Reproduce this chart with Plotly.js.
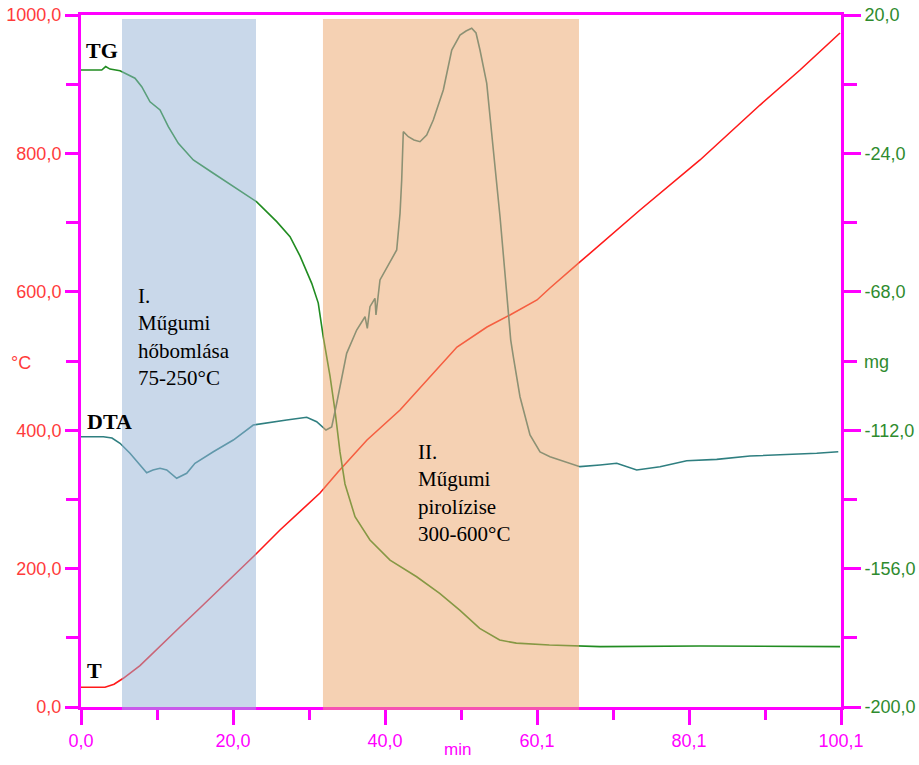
<!DOCTYPE html>
<html>
<head>
<meta charset="utf-8">
<script src="https://cdn.plot.ly/plotly-3.0.1.min.js"></script>
<style>
  html, body { margin: 0; padding: 0; background: #ffffff; }
  #chart { width: 919px; height: 765px; }
</style>
</head>
<body>
<div id="chart"></div>
<script>
// ---- Data ----
// Temperature curve T (°C, left axis)
const tTime = [0, 3.16, 4.35, 5.57, 7.77, 10.40, 13.04, 15.67, 19.23, 22.92, 26.21, 28.84, 31.48, 33.85, 37.67, 42.02, 46.36, 49.52, 53.47, 56.50, 60.06, 61.77, 65.72, 73.63, 81.53, 89.43, 94.70, 99.97];
const tTemp = [28.5, 28.5, 33, 41.5, 59.7, 88.2, 115.6, 143.1, 180.6, 219.7, 255.8, 283.2, 309.2, 339.6, 385.8, 429.2, 481.2, 520.2, 549.1, 566.5, 588.2, 605.5, 643.1, 718.2, 790.5, 869.9, 920.5, 974.0];

// Mass curve TG (mg, right axis)
const tgTime = [0, 2.73, 3.25, 3.82, 5.14, 7.11, 8.00, 9.09, 10.41, 11.50, 12.82, 14.79, 17.43, 20.51, 23.14, 25.78, 27.53, 28.84, 30.39, 31.25, 31.91, 32.80, 33.46, 34.11, 34.77, 36.09, 38.06, 40.70, 44.21, 47.24, 49.88, 52.51, 55.14, 57.34, 61.69, 68.36, 81.50, 99.97];
const tgMass = [2.5, 2.5, 3.6, 2.8, 2.3, -0.1, -2.8, -7.6, -10.2, -15.5, -20.8, -26.1, -30.3, -35.1, -39.4, -45.7, -50.5, -56.6, -65.3, -71.6, -82.3, -94.8, -105.9, -118.9, -129.1, -139.5, -146.9, -153.3, -158.6, -163.9, -169.2, -175.0, -178.7, -179.7, -180.3, -180.8, -180.6, -180.8];

// DTA signal (arbitrary units, no own axis)
const dtaTime = [0, 2.94, 4.08, 5.14, 6.45, 7.77, 8.65, 9.48, 10.41, 11.29, 12.60, 13.92, 15.01, 17.43, 20.06, 22.69, 24.46, 27.09, 29.73, 31.04, 32.27, 33.02, 33.68, 34.99, 36.31, 37.41, 37.71, 38.06, 38.72, 38.85, 39.38, 40.26, 41.58, 42.02, 42.24, 42.45, 43.11, 43.86, 44.65, 45.53, 46.40, 47.72, 48.83, 49.92, 50.71, 51.46, 52.03, 52.55, 53.44, 54.31, 55.19, 56.07, 56.60, 56.94, 57.82, 59.14, 60.46, 61.77, 63.09, 65.72, 68.36, 70.56, 73.19, 76.26, 79.78, 83.73, 88.11, 92.50, 96.90, 99.74];
const dtaSignal = [390.6, 390.6, 388.7, 381.1, 366.6, 349.7, 338.6, 342.5, 344.9, 342.5, 330.5, 337.7, 352.2, 368.9, 385.8, 407.5, 410.8, 414.7, 418.6, 412.3, 400.3, 404.6, 438.9, 511.1, 544.8, 564.0, 547.2, 578.5, 590.6, 566.5, 617.1, 634.0, 660.4, 713.4, 761.6, 831.4, 824.1, 819.4, 816.9, 826.6, 848.3, 891.6, 949.4, 971.1, 976.9, 980.8, 974.0, 949.4, 901.3, 804.9, 708.5, 597.8, 530.3, 506.2, 448.4, 393.1, 368.5, 361.7, 356.9, 347.3, 349.7, 352.2, 342.5, 347.3, 355.9, 357.9, 362.7, 364.2, 366.6, 368.9];

// Shaded stages (min)
const stageStart = [5.40, 31.87];
const stageEnd = [23.05, 65.59];
const stageColors = ['#93b1d5', '#eba367'];

// Tick values / labels
const xTickVals = [0, 20.02, 40.04, 60.06, 80.08, 100.1];
const xTickText = ['0,0', '20,0', '40,0', '60,1', '80,1', '100,1'];
const xMinorVals = [10.01, 30.03, 50.05, 70.07, 90.09];
const yTickVals = [0, 200, 400, 600, 800, 1000];
const yTickText = ['0,0', '200,0', '400,0', '600,0', '800,0', '1000,0'];
const yMinorVals = [100, 300, 500, 700, 900];
const y2TickVals = [-200, -156, -112, -68, -24, 20];
const y2TickText = ['-200,0', '-156,0', '-112,0', '-68,0', '-24,0', '20,0'];
const y2MinorVals = [-178, -134, -90, -46, -2];

const MAG = '#ff00ff';
const serif = '"Liberation Serif", "Times New Roman", serif';
const sans = '"Liberation Sans", Arial, sans-serif';

const traces = [
  { x: dtaTime, y: dtaSignal, yaxis: 'y3', mode: 'lines', name: 'DTA',
    line: { color: '#2f7f80', width: 1.6 } },
  { x: tgTime, y: tgMass, yaxis: 'y2', mode: 'lines', name: 'TG',
    line: { color: '#218c21', width: 1.6 } },
  { x: tTime, y: tTemp, yaxis: 'y', mode: 'lines', name: 'T',
    line: { color: '#ff1a1a', width: 1.6 } }
];

const shapes = stageStart.map((s, i) => ({
  type: 'rect', xref: 'x', yref: 'paper', x0: s, x1: stageEnd[i],
  y0: -0.0045, y1: 0.9942, fillcolor: stageColors[i], opacity: 0.5,
  line: { width: 0 }, layer: 'above'
}));

const annotations = [
  { text: '<b>TG</b>', x: 2.77, y: 949, xref: 'x', yref: 'y', showarrow: false,
    xanchor: 'center', yanchor: 'middle',
    font: { family: serif, size: 22, color: '#000' } },
  { text: '<b>DTA</b>', x: 3.69, y: 412, xref: 'x', yref: 'y', showarrow: false,
    xanchor: 'center', yanchor: 'middle',
    font: { family: serif, size: 22, color: '#000' } },
  { text: '<b>T</b>', x: 1.84, y: 53, xref: 'x', yref: 'y', showarrow: false,
    xanchor: 'center', yanchor: 'middle',
    font: { family: serif, size: 22, color: '#000' } },
  { text: 'I.<br>Műgumi<br>hőbomlása<br>75-250°C', x: 7.24, y: 534, xref: 'x', yref: 'y',
    xanchor: 'left', yanchor: 'middle', align: 'left', showarrow: false,
    font: { family: serif, size: 21, color: '#000' } },
  { text: 'II.<br>Műgumi<br>pirolízise<br>300-600°C', x: 44.12, y: 309, xref: 'x', yref: 'y',
    xanchor: 'left', yanchor: 'middle', align: 'left', showarrow: false,
    font: { family: serif, size: 21, color: '#000' } },
  { text: '°C', x: -0.079, y: 0.497, xref: 'paper', yref: 'paper', showarrow: false,
    xanchor: 'center', yanchor: 'middle',
    font: { family: sans, size: 18, color: '#ff3b3b' } },
  { text: 'mg', x: 1.047, y: 0.4986, xref: 'paper', yref: 'paper', showarrow: false,
    xanchor: 'center', yanchor: 'middle',
    font: { family: sans, size: 18, color: '#2e8b2e' } },
  { text: 'min', x: 0.496, y: -0.062, xref: 'paper', yref: 'paper', showarrow: false,
    xanchor: 'center', yanchor: 'middle',
    font: { family: sans, size: 17, color: MAG } }
];

const layout = {
  width: 919, height: 765,
  margin: { l: 81, r: 78, t: 15, b: 58 },
  paper_bgcolor: '#ffffff', plot_bgcolor: '#ffffff',
  showlegend: false,
  xaxis: {
    range: [0, 100.1], showgrid: false, zeroline: false,
    showline: true, linecolor: MAG, linewidth: 3, mirror: true,
    tickmode: 'array', tickvals: xTickVals, ticktext: xTickText,
    ticks: 'outside', ticklen: 15, tickwidth: 3, tickcolor: MAG,
    minor: { tickmode: 'array', tickvals: xMinorVals, ticks: 'outside', ticklen: 10, tickwidth: 3, tickcolor: MAG, showgrid: false },
    tickfont: { family: sans, size: 18, color: MAG }
  },
  yaxis: {
    range: [0, 1000], showgrid: false, zeroline: false,
    showline: true, linecolor: MAG, linewidth: 3,
    tickmode: 'array', tickvals: yTickVals, ticktext: yTickText,
    ticks: 'outside', ticklen: 13, tickwidth: 3, tickcolor: MAG,
    minor: { tickmode: 'array', tickvals: yMinorVals, ticks: 'outside', ticklen: 12, tickwidth: 3, tickcolor: MAG, showgrid: false },
    tickfont: { family: sans, size: 18, color: '#ff3b3b' }
  },
  yaxis2: {
    range: [-200, 20], overlaying: 'y', side: 'right', anchor: 'x',
    showgrid: false, zeroline: false,
    showline: true, linecolor: MAG, linewidth: 3,
    tickmode: 'array', tickvals: y2TickVals, ticktext: y2TickText,
    ticks: 'outside', ticklen: 17, tickwidth: 3, tickcolor: MAG,
    minor: { tickmode: 'array', tickvals: y2MinorVals, ticks: 'outside', ticklen: 13, tickwidth: 3, tickcolor: MAG, showgrid: false },
    tickfont: { family: sans, size: 18, color: '#2e8b2e' }
  },
  yaxis3: {
    range: [0, 1000], overlaying: 'y', visible: false, anchor: 'x'
  },
  shapes: shapes,
  annotations: annotations
};

Plotly.newPlot('chart', traces, layout, { displayModeBar: false, staticPlot: true });
</script>
</body>
</html>
